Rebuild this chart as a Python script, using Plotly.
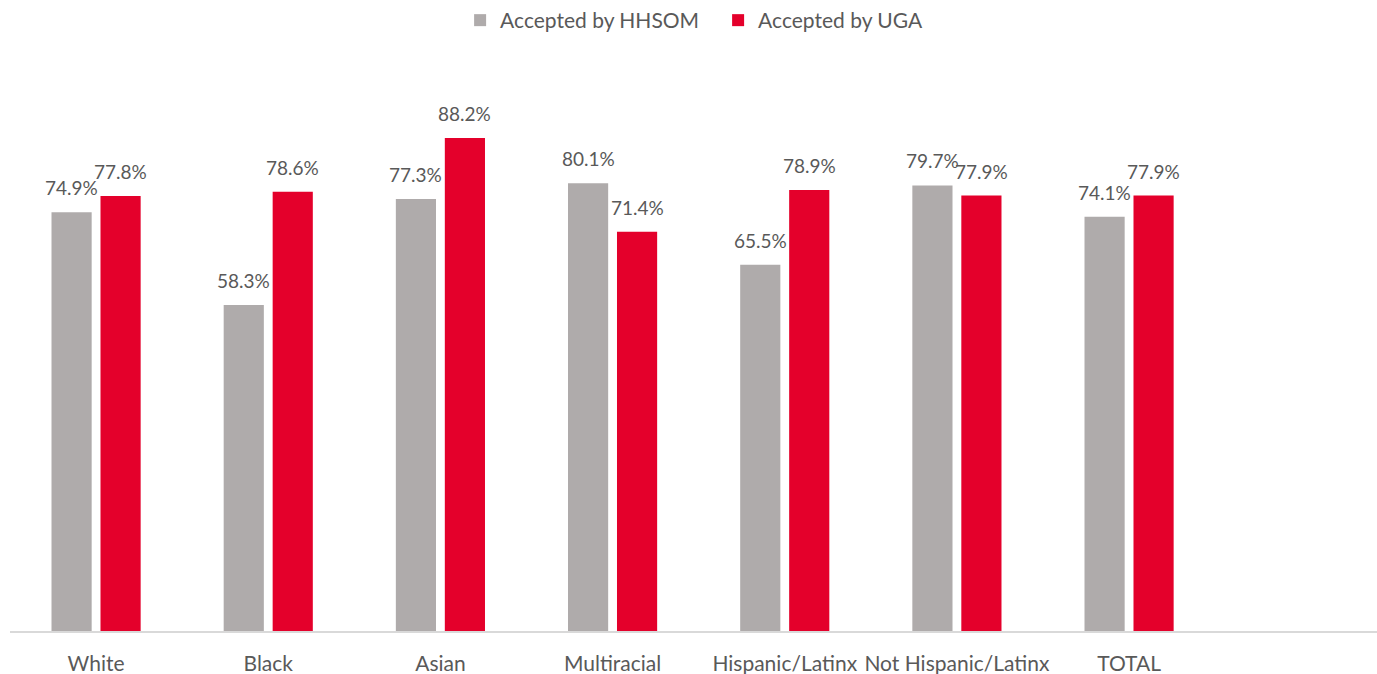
import plotly.graph_objects as go

categories = ["White", "Black", "Asian", "Multiracial", "Hispanic/Latinx", "Not Hispanic/Latinx", "TOTAL"]
hhsom = [74.9, 58.3, 77.3, 80.1, 65.5, 79.7, 74.1]
uga = [77.8, 78.6, 88.2, 71.4, 78.9, 77.9, 77.9]

GREY = "#AFABAB"
RED = "#E4002B"
TXT = "#595959"
FONT = "Lato"

fig = go.Figure()
fig.add_trace(go.Bar(x=list(range(len(categories))), y=hhsom, name="Accepted by HHSOM",
                     marker=dict(color=GREY, line=dict(width=0))))
fig.add_trace(go.Bar(x=list(range(len(categories))), y=uga, name="Accepted by UGA",
                     marker=dict(color=RED, line=dict(width=0))))

ann = []
for i, (a, b) in enumerate(zip(hhsom, uga)):
    for v, shift in ((a, -24.5), (b, 24.5)):
        ann.append(dict(x=i, y=v, xref="x", yref="y", text=f"{v:.1f}%", showarrow=False,
                        xshift=shift, yshift=11, yanchor="bottom",
                        font=dict(family=FONT, size=19, color=TXT)))

fig.update_layout(
    width=1377, height=674,
    margin=dict(l=10, r=0, t=72, b=43, autoexpand=False),
    paper_bgcolor="white", plot_bgcolor="white",
    barmode="group", bargap=0.431, bargroupgap=0.18,
    font=dict(family=FONT, size=21, color=TXT),
    legend=dict(orientation="h", x=0.518, xanchor="center", y=1.0, yanchor="top",
                yref="container", font=dict(family=FONT, size=21, color=TXT),
                itemwidth=30, traceorder="normal", entrywidth=213),
    annotations=ann,
    showlegend=True,
)
fig.update_xaxes(range=[-0.5, 7.44], tickmode="array", tickvals=list(range(len(categories))),
                 ticktext=categories, showline=True, linecolor="#D9D9D9", linewidth=1.5,
                 showgrid=False, zeroline=False, ticks="", ticklabelstandoff=13,
                 automargin=False,
                 tickfont=dict(family=FONT, size=21, color=TXT))
fig.update_yaxes(range=[0, 100], visible=False, showgrid=False, zeroline=False, automargin=False)

fig.write_html("out.html", config={"displayModeBar": False},
               post_script="document.body.style.margin='0';document.body.style.padding='0';")
